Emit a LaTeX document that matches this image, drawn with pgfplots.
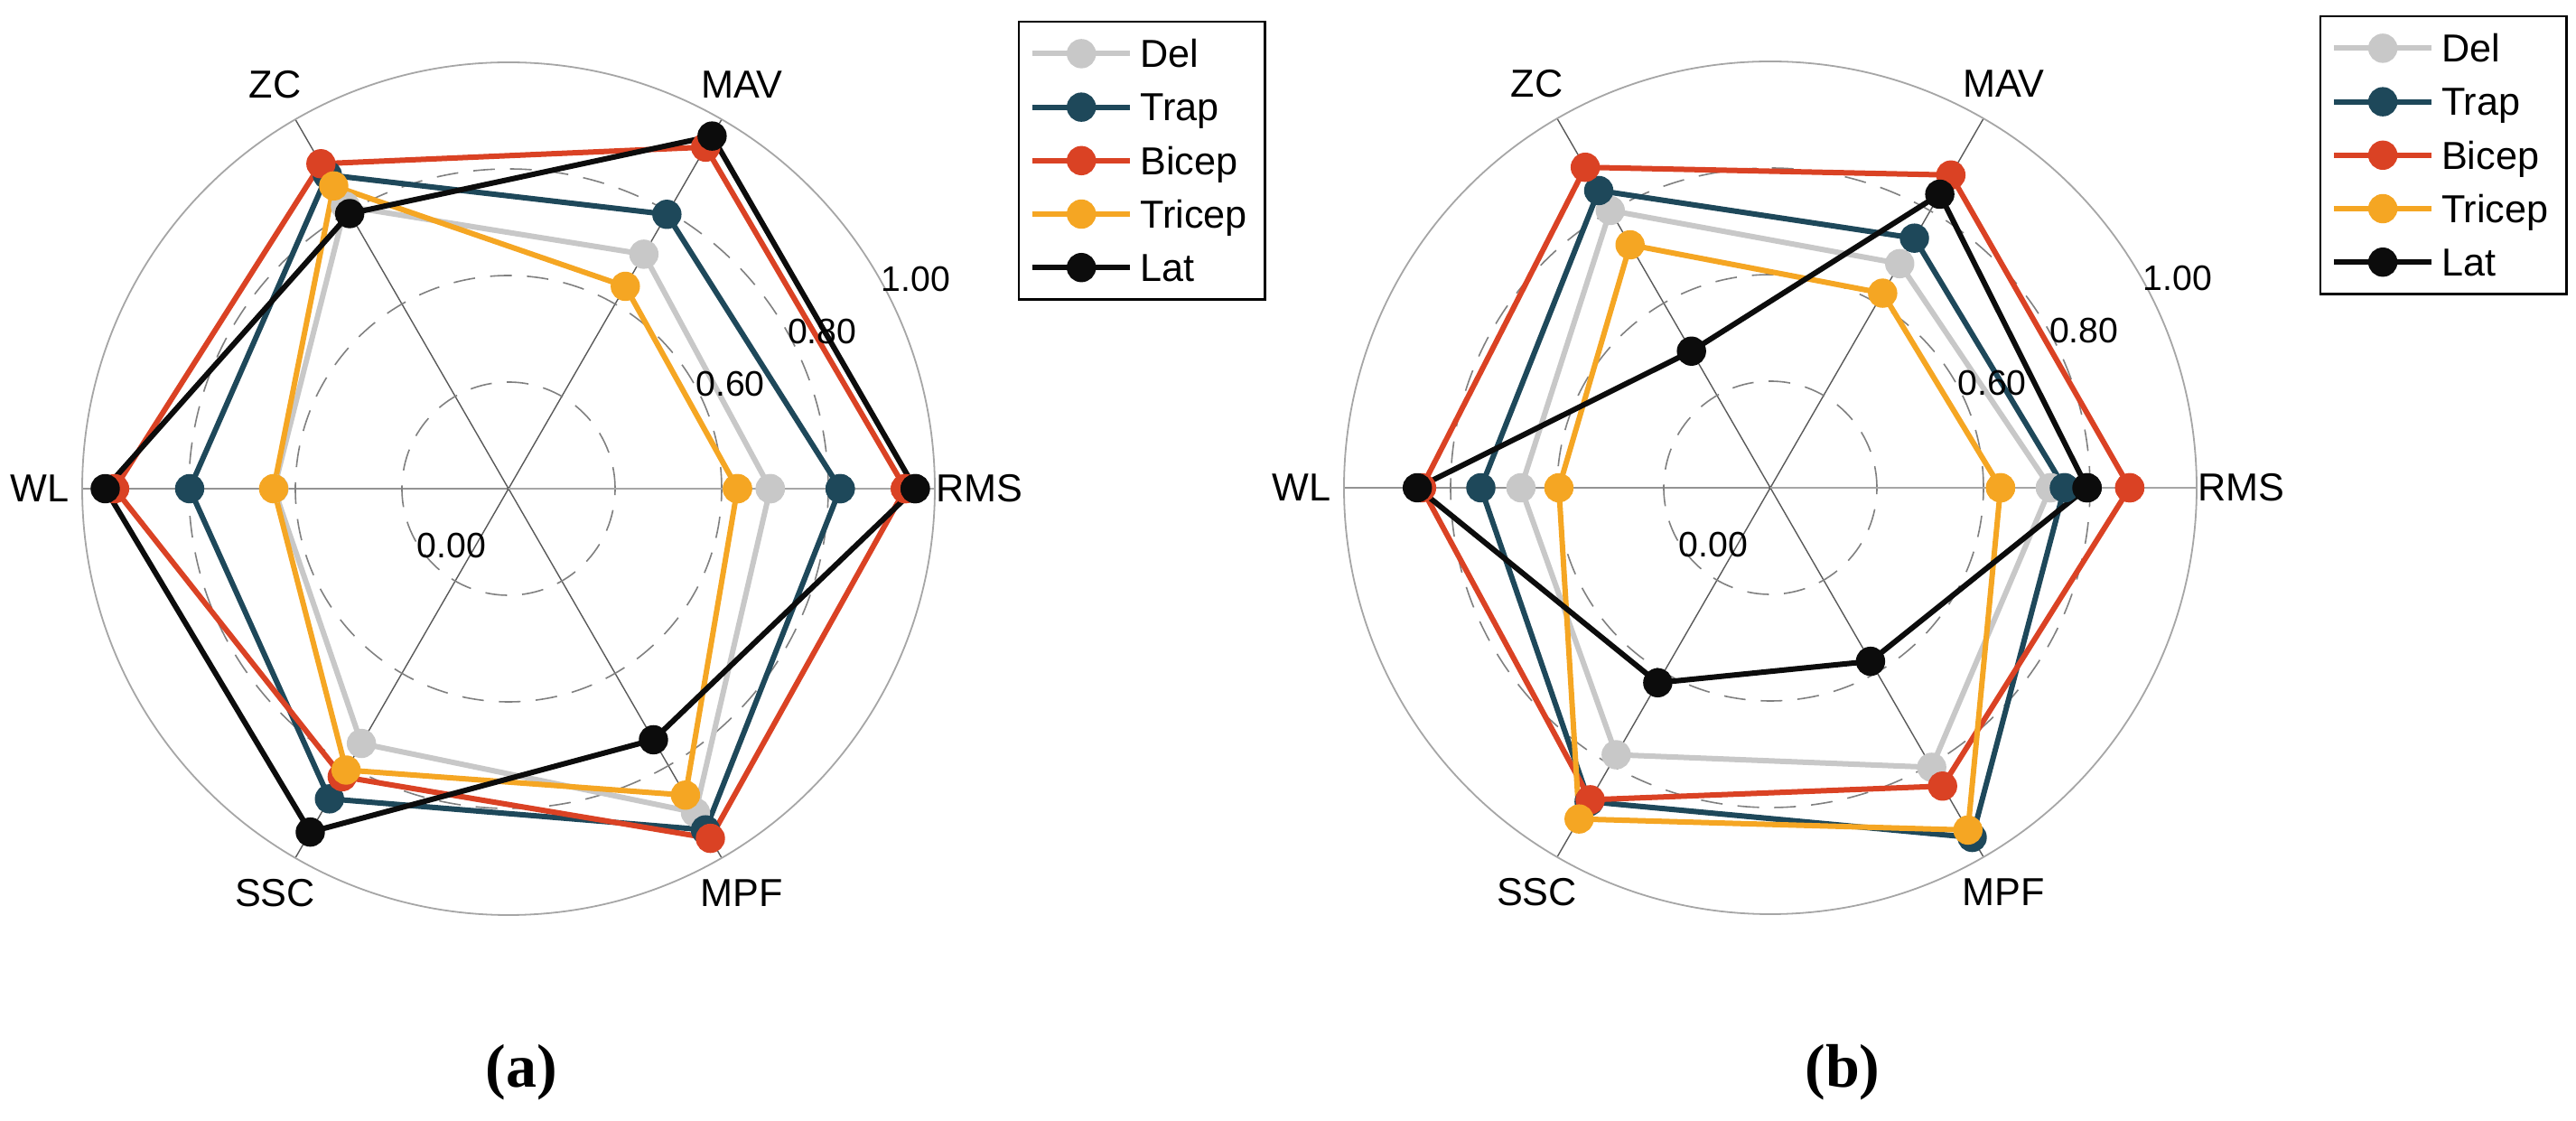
\documentclass[border=0pt]{standalone}
\usepackage{pgfplots}
\pgfplotsset{compat=1.18}
\usepgfplotslibrary{polar}
\usepackage{fontspec}
\setmainfont{Liberation Sans}
\newfontfamily\capfont{Liberation Serif}
\definecolor{cdel}{RGB}{200,200,200}
\definecolor{ctrap}{RGB}{30,72,90}
\definecolor{cbicep}{RGB}{218,66,36}
\definecolor{ctricep}{RGB}{245,166,35}
\definecolor{clat}{RGB}{12,12,12}

\pgfplotsset{
  ser/.style={color=#1, line width=1.5pt, mark=*, mark size=3.3pt, mark options={solid}},
  radar/.style={
    width=236pt, height=236pt, scale only axis,
    xmin=0, xmax=360, ymin=0, ymax=1,
    xtick={0,60,120,180,240,300}, xticklabels={},
    ytick={0.25,0.5,0.75}, yticklabels={},
    grid=major,
    major x grid style={draw=black!65, line width=0.35pt},
    major y grid style={draw=black!50, line width=0.4pt, dash pattern=on 6pt off 4.2pt},
    axis line style={draw=black!35, line width=0.45pt},
    major tick length=0pt,
    clip=false,
    legend cell align=left,
    legend image code/.code={\draw[##1, mark repeat=2, mark phase=2] plot coordinates {(0pt,0pt) (13.5pt,0pt) (27pt,0pt)};},
    legend style={draw=black, line width=0.6pt, font=\fontsize{10.8}{12}\selectfont, anchor=north west,
      inner xsep=3pt, inner ysep=1.4pt,
      nodes={inner ysep=3.6pt, text height=7.6pt, text depth=0pt}},
  },
}

\newcommand{\radarlabels}{%
  \node[font=\fontsize{10.8}{12}\selectfont] at (axis cs:0,1.105) {RMS};
  \node[font=\fontsize{10.8}{12}\selectfont] at (axis cs:60,1.095) {MAV};
  \node[font=\fontsize{10.8}{12}\selectfont] at (axis cs:120,1.095) {ZC};
  \node[font=\fontsize{10.8}{12}\selectfont] at (axis cs:180,1.10) {WL};
  \node[font=\fontsize{10.8}{12}\selectfont] at (axis cs:240,1.095) {SSC};
  \node[font=\fontsize{10.8}{12}\selectfont] at (axis cs:300,1.095) {MPF};
  \node[font=\fontsize{9.8}{11}\selectfont] at (axis cs:27.2,1.074) {1.00};
  \node[font=\fontsize{9.8}{11}\selectfont] at (axis cs:26.6,0.823) {0.80};
  \node[font=\fontsize{9.8}{11}\selectfont] at (axis cs:25.2,0.575) {0.60};
  \node[font=\fontsize{9.8}{11}\selectfont] at (axis cs:225,0.189) {0.00};
}

\begin{document}
\begin{tikzpicture}
\useasboundingbox (0,0) rectangle (713pt,310.25pt);

% ---------------- (a) ----------------
\begin{polaraxis}[radar, at={(140.75pt,175pt)}, anchor=center,
  legend style={at={(axis description cs:1.0975,1.0487)}}]
\addplot[ser=cdel]    coordinates {(0,0.614) (60,0.635) (120,0.765) (180,0.550) (240,0.690) (300,0.877) (360,0.614)};
\addplot[ser=ctrap]   coordinates {(0,0.778) (60,0.743) (120,0.850) (180,0.748) (240,0.840) (300,0.924) (360,0.778)};
\addplot[ser=cbicep]  coordinates {(0,0.931) (60,0.925) (120,0.880) (180,0.924) (240,0.780) (300,0.947) (360,0.931)};
\addplot[ser=ctricep] coordinates {(0,0.537) (60,0.548) (120,0.820) (180,0.551) (240,0.762) (300,0.830) (360,0.537)};
\addplot[ser=clat]    coordinates {(0,0.954) (60,0.955) (120,0.745) (180,0.946) (240,0.930) (300,0.680) (360,0.954)};
\legend{Del,Trap,Bicep,Tricep,Lat}
\radarlabels
\end{polaraxis}

% ---------------- (b) ----------------
\begin{polaraxis}[radar, at={(490pt,175.25pt)}, anchor=center,
  legend style={at={(axis description cs:1.144,1.054)}}]
\addplot[ser=cdel]    coordinates {(0,0.657) (60,0.607) (120,0.751) (180,0.585) (240,0.723) (300,0.757) (360,0.657)};
\addplot[ser=ctrap]   coordinates {(0,0.690) (60,0.676) (120,0.805) (180,0.679) (240,0.850) (300,0.947) (360,0.690)};
\addplot[ser=cbicep]  coordinates {(0,0.843) (60,0.847) (120,0.868) (180,0.818) (240,0.845) (300,0.808) (360,0.843)};
\addplot[ser=ctricep] coordinates {(0,0.540) (60,0.527) (120,0.658) (180,0.496) (240,0.897) (300,0.927) (360,0.540)};
\addplot[ser=clat]    coordinates {(0,0.743) (60,0.795) (120,0.370) (180,0.828) (240,0.528) (300,0.470) (360,0.743)};
\legend{Del,Trap,Bicep,Tricep,Lat}
\radarlabels
\end{polaraxis}

\node[font=\capfont\bfseries\fontsize{17}{20}\selectfont] at (144.25pt,13.5pt) {(a)};
\node[font=\capfont\bfseries\fontsize{17}{20}\selectfont] at (510pt,13.5pt) {(b)};
\end{tikzpicture}
\end{document}
